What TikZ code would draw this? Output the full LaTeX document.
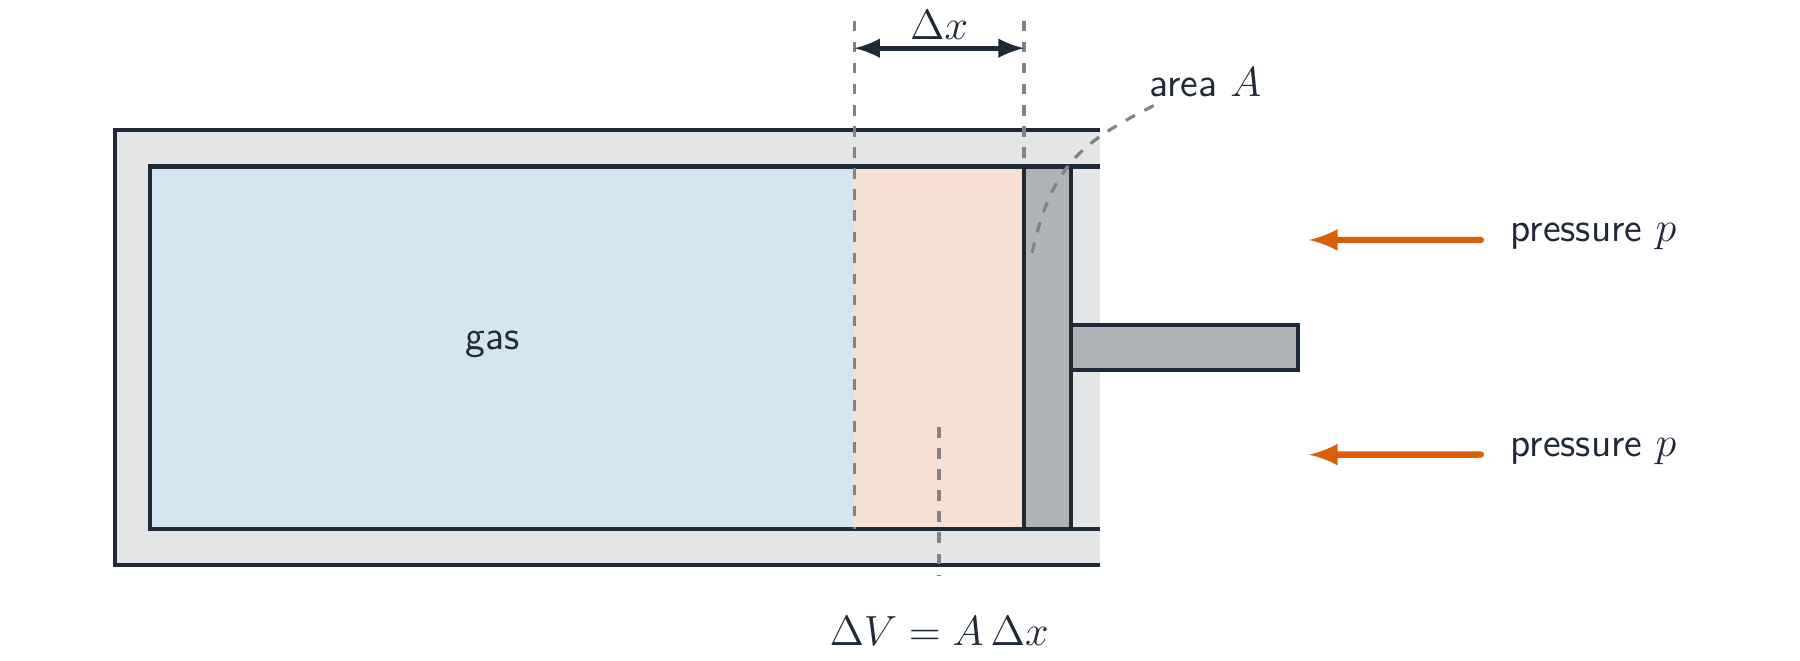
\documentclass[tikz,border=0pt]{standalone}
\usepackage{amsmath, amssymb}
\usepackage{tikz}
\definecolor{ink}{HTML}{1F2937}
\definecolor{wallgray}{HTML}{E4E5E6}
\definecolor{gasblue}{HTML}{D2E5F0}
\definecolor{dvorange}{HTML}{F6E0D1}
\definecolor{pistongray}{HTML}{B0B3B8}
\definecolor{arroworange}{HTML}{D9600B}
\definecolor{guide}{HTML}{808285}
\tikzset{
  wall/.style={ink, line width=1.2pt},
  guideline/.style={guide, dashed, line width=0.9pt},
  push/.style={-latex, arroworange, line width=1.8pt, line cap=round},
  txt/.style={ink, font=\fontsize{11.5}{14}\selectfont},
  lbl/.style={ink, font=\fontsize{11.5}{14}\selectfont\sffamily}
}
\begin{document}
\begin{tikzpicture}[yscale=-1, scale=1.148]
\useasboundingbox (0,0) rectangle (15.68,5.75);

% Cylinder walls
\fill[wallgray] (1.00,1.13) rectangle (9.58,4.92);
\fill[gasblue] (1.31,1.45) rectangle (7.44,4.61);
\fill[dvorange] (7.44,1.45) rectangle (8.92,4.61);
\draw[wall] (9.58,1.13) -- (1.00,1.13) -- (1.00,4.92) -- (9.58,4.92);
\draw[wall] (9.58,1.45) -- (1.31,1.45) -- (1.31,4.61) -- (9.58,4.61);

% Piston and rod
\draw[wall, fill=pistongray] (8.92,1.45) rectangle (9.33,4.61);
\draw[wall, fill=pistongray] (9.33,2.83) rectangle (11.31,3.22);

% Guides
\draw[guideline] (7.44,0.18) -- (7.44,4.61);
\draw[guideline] (8.92,0.18) -- (8.92,1.45);
\draw[guideline] (8.18,3.72) -- (8.18,5.02);
\draw[guideline] (10.05,0.92) .. controls (9.40,1.25) and (9.15,1.45) .. (8.98,2.25);

% Delta x
\coordinate (dxl) at (7.44,0.42);
\coordinate (dxr) at (8.92,0.42);
\draw[latex-latex, ink, line width=1.5pt] (dxl) -- (dxr);
\node[txt] (dx) at (8.18,0.22) {$\Delta x$};

% Labels
\node[lbl] (gas) at (4.29,3.00) {gas};
\node[lbl] (area) at (10.50,0.72) {area $A$};
\node[txt] (dv) at (8.18,5.50) {$\Delta V = A\,\Delta x$};

% Pressure
\node[lbl, anchor=west] (p1) at (13.05,2.06) {pressure $p$};
\node[lbl, anchor=west] (p2) at (13.05,3.93) {pressure $p$};
\coordinate (a1) at (11.40,2.09);
\coordinate (a2) at (11.40,3.96);
\draw[push] (12.90,2.09) -- (a1);
\draw[push] (12.90,3.96) -- (a2);

\end{tikzpicture}
\end{document}
